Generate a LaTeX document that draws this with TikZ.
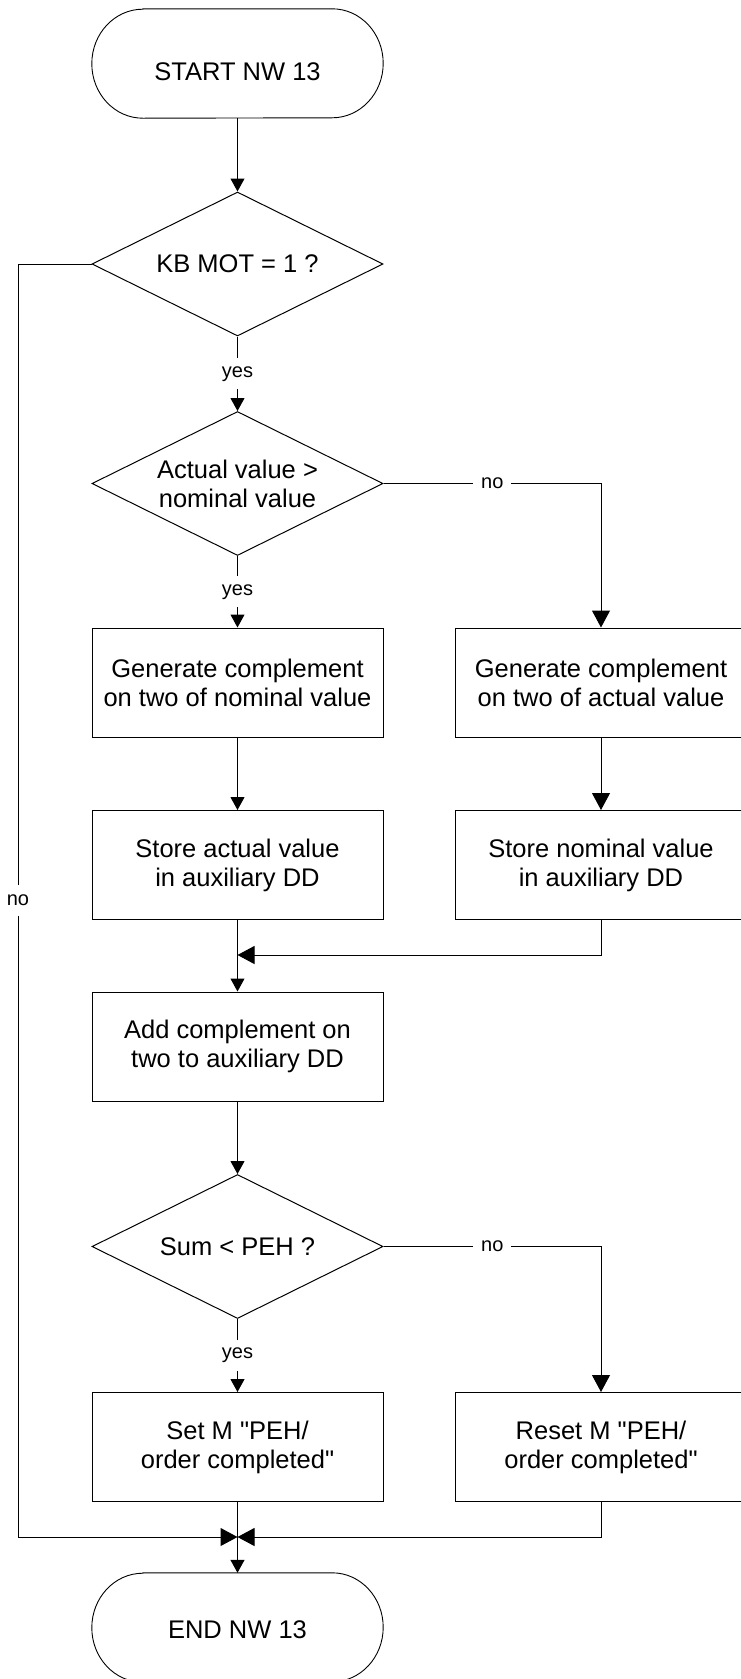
\documentclass[tikz,border=0pt]{standalone}
\usepackage{fontspec}
\setmainfont{Liberation Sans}
\usetikzlibrary{arrows.meta,shapes.geometric}
\begin{document}
\begin{tikzpicture}[x=1pt,y=-1pt,
  every node/.style={font=\fontsize{25.5}{29}\selectfont},
  box/.style={draw, line width=1pt, minimum width=291pt, minimum height=109pt, inner sep=0pt, align=center},
  dec/.style={draw, diamond, aspect=2, minimum width=291pt, minimum height=144pt, inner sep=0pt, align=center, line width=1pt},
  term/.style={minimum width=291pt, minimum height=109pt, inner sep=0pt},
  lbl/.style={fill=white, font=\fontsize{20}{24}\selectfont, inner sep=8pt},
  sarr/.style={-{Triangle[length=13pt,width=14pt]}, line width=1pt},
  larr/.style={-{Triangle[length=17pt,width=18pt]}, line width=1pt},
  outline/.style={line width=0.9pt}
]
\useasboundingbox (0,0) rectangle (740,1679);

\node[term] (start) at (237.5,63.5) {};
\node (starttxt) at (237.5,72) {START NW 13};
\node[dec] (d1) at (237.5,264) {KB MOT = 1 ?};
\node[dec] (d2) at (237.5,483.5) {Actual value >\\nominal value};
\node[box] (L1) at (237.5,682.5) {Generate complement\\on two of nominal value};
\node[box] (R1) at (601,682.5) {Generate complement\\on two of actual value};
\node[box] (L2) at (237.5,865) {Store actual value\\in auxiliary DD};
\node[box] (R2) at (601,865) {Store nominal value\\in auxiliary DD};
\node[box] (L3) at (237.5,1046.5) {Add complement on\\two to auxiliary DD};
\node[dec] (d3) at (237.5,1246.5) {Sum < PEH ?};
\node[box] (L4) at (237.5,1447) {Set M \textquotedbl PEH/\\order completed\textquotedbl};
\node[box] (R4) at (601,1447) {Reset M \textquotedbl PEH/\\order completed\textquotedbl};
\node[term] (end) at (237.5,1627.5) {};
\node (endtxt) at (237.5,1630) {END NW 13};

\foreach \n in {start,end}
  \draw[outline] ([xshift=51pt]\n.north west) -- ([xshift=-51pt]\n.north east)
    arc[start angle=90,end angle=-90,x radius=51pt,y radius=54.5pt]
    -- ([xshift=51pt]\n.south west)
    arc[start angle=270,end angle=90,x radius=51pt,y radius=54.5pt] -- cycle;

\coordinate (m1) at (237.5,955);
\coordinate (m2) at (237.5,1537);
\coordinate (nl) at (18,1537);

\draw[sarr] (start) -- (d1);
\draw[sarr] (d1) -- node[lbl]{yes} (d2);
\draw[sarr] (d2) -- node[lbl]{yes} (L1);
\draw[larr] (d2.east) -| node[lbl,pos=0.25]{no} (R1.north);
\draw[sarr] (L1) -- (L2);
\draw[larr] (R1) -- (R2);
\draw[sarr] (L2) -- (L3);
\draw[larr] (R2.south) |- (m1);
\draw[sarr] (L3) -- (d3);
\draw[sarr] (d3) -- node[lbl]{yes} (L4);
\draw[larr] (d3.east) -| node[lbl,pos=0.25]{no} (R4.north);
\draw[sarr] (L4) -- (end);
\draw[larr] (R4.south) |- (m2);
\draw[larr] (d1.west) -| node[lbl,pos=0.75,inner ysep=10pt]{no} (nl) -- (m2);
\end{tikzpicture}
\end{document}
